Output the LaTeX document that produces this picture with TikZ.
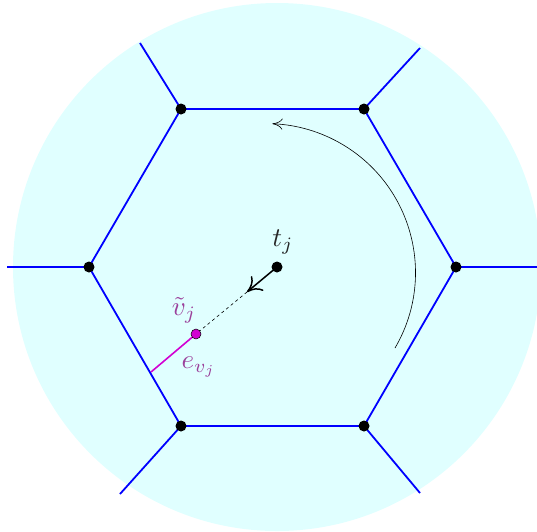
\documentclass[tikz,border=0pt]{standalone}
\usetikzlibrary{arrows.meta}
\definecolor{bgcyan}{RGB}{224,255,255}
\definecolor{lblpurple}{RGB}{155,65,155}
\definecolor{mag}{RGB}{210,0,210}
\tikzset{
  dot/.style={circle,fill=black,inner sep=0pt,minimum size=11pt},
  mdot/.style={circle,fill=mag,draw=black,line width=0.5pt,inner sep=0pt,minimum size=10pt},
  edge/.style={blue,line width=1.8pt},
  lbl/.style={scale=2.7},
}
\begin{document}
\begin{tikzpicture}[x=1pt,y=-1pt]
\useasboundingbox (0,0) rectangle (537,531);
\fill[bgcyan] (277,267) circle[radius=264];
% hexagon vertices
\coordinate (p1) at (181,109);
\coordinate (p2) at (364,109);
\coordinate (p3) at (456,267);
\coordinate (p4) at (364,426);
\coordinate (p5) at (181,426);
\coordinate (p6) at (89,267);
% outer ends
\coordinate (o1) at (140,43);
\coordinate (o2) at (420,48);
\coordinate (o3) at (540,267);
\coordinate (o4) at (420,493);
\coordinate (o5) at (120,494);
\coordinate (o6) at (7,267);
\draw[edge] (p1) -- (p2) -- (p3) -- (p4) -- (p5) -- (p6) -- cycle;
\foreach \i in {1,...,6} {\draw[edge] (p\i) -- (o\i);}
% magenta segment
\coordinate (ee) at (151,372);
\coordinate (tip) at (247,292);
\draw[mag,line width=1.6pt] (ee) -- (196,334);
\draw[dashed,line width=0.6pt] (tip) -- (196,334);
\draw[-{Computer Modern Rightarrow[length=14pt,width=19pt]},line width=1.5pt] (277,267) -- (tip);
% rotation arrow
\draw[-{Computer Modern Rightarrow[length=10pt,width=11pt]},line width=0.6pt] (395,348) arc[start angle=30.4,end angle=-87.7,radius=149];
% dots
\foreach \i in {1,...,6} {\node[dot] (d\i) at (p\i) {};}
\node[dot] (t) at (277,267) {};
\node[mdot] (vt) at (196,334) {};
% labels
\node[lbl,text=black!85] (tl) at (283,242) {$t_j$};
\node[lbl,text=lblpurple] (vl) at (184,310) {$\tilde v_j$};
\node[lbl,text=lblpurple] (el) at (199,367) {$e_{v_j}$};
\end{tikzpicture}
\end{document}
